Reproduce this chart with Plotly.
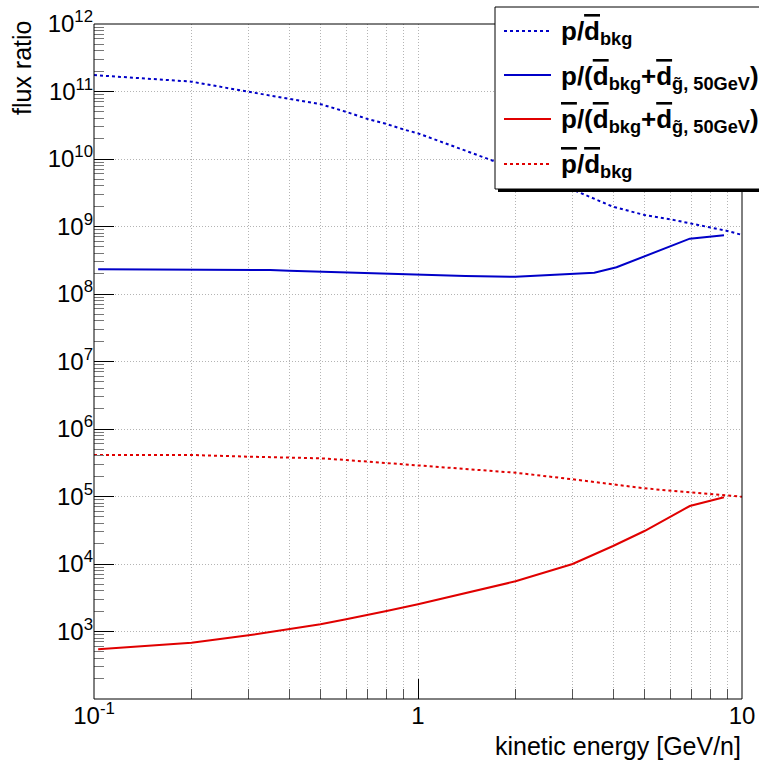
import plotly.graph_objects as go

# ---------------- data ----------------
E_bkg = [0.1, 0.2, 0.3, 0.4, 0.5, 0.6, 0.7, 0.8, 0.9, 1.0, 1.7, 3.1, 4.0, 5.0, 6.0, 7.0, 8.0, 9.0, 10.0]
p_over_dbkg = [1.75e11, 1.40e11, 9.9e10, 7.7e10, 6.5e10, 5.0e10, 3.9e10, 3.3e10, 2.75e10, 2.4e10,
               9.4e9, 3.3e9, 1.96e9, 1.48e9, 1.28e9, 1.11e9, 9.7e8, 8.6e8, 7.5e8]

E_sig = [0.103, 0.2, 0.35, 0.4, 0.5, 0.6, 0.7, 0.8, 1.0, 1.2, 1.4, 2.0, 3.0, 3.5, 4.1, 6.9, 8.8]
p_over_dsum = [2.32e8, 2.32e8, 2.27e8, 2.21e8, 2.14e8, 2.09e8, 2.05e8, 2.03e8, 1.98e8, 1.89e8,
               1.85e8, 1.80e8, 1.98e8, 2.07e8, 2.49e8, 6.6e8, 7.4e8]

E_pbar_sig = [0.103, 0.2, 0.3, 0.4, 0.5, 0.6, 0.7, 0.8, 1.0, 2.0, 3.0, 4.0, 5.0, 6.0, 6.9, 8.8]
pbar_over_dsum = [545, 682, 879, 1079, 1279, 1517, 1755, 2013, 2529, 5543, 10000, 18500,
                  30800, 49200, 72300, 97300]

E_pbar_bkg = [0.1, 0.2, 0.3, 0.4, 0.5, 0.6, 0.7, 0.8, 1.0, 2.0, 3.0, 4.0, 5.0, 7.0, 10.0]
pbar_over_dbkg = [4.12e5, 4.12e5, 3.89e5, 3.81e5, 3.68e5, 3.47e5, 3.28e5, 3.17e5, 2.93e5,
                  2.25e5, 1.80e5, 1.52e5, 1.32e5, 1.15e5, 9.9e4]

y_tick_exps = list(range(3, 13))
x_tick_vals = [0.1, 1, 10]
x_tick_text = ["10<sup>-1</sup>", "1", "10"]

OL = '<span style="text-decoration:overline">{}</span>'
d_bar = OL.format("d")
p_bar = OL.format("p")
legend_labels = [
    f"<b>p/{d_bar}<sub>bkg</sub></b>",
    f"<b>p/({d_bar}<sub>bkg</sub>+{d_bar}<sub>g\u0303, 50GeV</sub>)</b>",
    f"<b>{p_bar}/({d_bar}<sub>bkg</sub>+{d_bar}<sub>g\u0303, 50GeV</sub>)</b>",
    f"<b>{p_bar}/{d_bar}<sub>bkg</sub></b>",
]

BLUE = "#0000c8"
RED = "#e00000"
styles = [(BLUE, "dot"), (BLUE, "solid"), (RED, "solid"), (RED, "dot")]

# ---------------- geometry ----------------
W, H = 759, 764
L, R, T, B = 94, 17, 24, 65
PW, PH = W - L - R, H - T - B


def px(xp):
    return (xp - L) / PW


def py(yp):
    return (H - B - yp) / PH


FONT = "Liberation Sans, Arial, sans-serif"
GRID = "#b4b4b4"
GDASH = "1px,2px"

fig = go.Figure()
series = [(E_bkg, p_over_dbkg), (E_sig, p_over_dsum), (E_pbar_sig, pbar_over_dsum), (E_pbar_bkg, pbar_over_dbkg)]
for (xs, ys), (col, dash), name in zip(series, styles, legend_labels):
    fig.add_trace(go.Scatter(x=xs, y=ys, mode="lines", name=name, showlegend=False,
                             line=dict(color=col, width=2, dash=dash)))

minor_x = [k * 10 ** e for e in (-1, 0) for k in range(2, 10)]
minor_y = [k * 10 ** e for e in range(2, 12) for k in range(2, 10)]

fig.update_xaxes(type="log", range=[-1, 1], tickmode="array", tickvals=x_tick_vals, ticktext=x_tick_text,
                 ticks="inside", ticklen=20, tickcolor="black", tickwidth=1, automargin=False,
                 showline=False, showgrid=True, gridcolor=GRID, griddash=GDASH, gridwidth=1,
                 tickfont=dict(family=FONT, size=24, color="black"),
                 minor=dict(tickmode="array", tickvals=minor_x, ticks="inside", ticklen=10,
                            tickcolor="#555555", showgrid=True, gridcolor=GRID, griddash=GDASH),
                 zeroline=False)
fig.update_yaxes(type="log", range=[2, 12], tickmode="array",
                 tickvals=[10 ** e for e in y_tick_exps],
                 ticktext=[f"10<sup>{e}</sup>" for e in y_tick_exps],
                 ticks="inside", ticklen=20, tickcolor="black", tickwidth=1, automargin=False,
                 showline=False, showgrid=True, gridcolor=GRID, griddash=GDASH, gridwidth=1,
                 tickfont=dict(family=FONT, size=24, color="black"),
                 minor=dict(tickmode="array", tickvals=minor_y, ticks="inside", ticklen=10,
                            tickcolor="#777777", showgrid=False),
                 zeroline=False)

shapes = []
annotations = []
# plot frame (drawn before the legend box so the box covers it)
shapes.append(dict(type="rect", xref="paper", yref="paper", x0=0, x1=1, y0=0, y1=1,
                   line=dict(color="black", width=1), layer="above"))
# legend shadow + box
shapes.append(dict(type="rect", xref="paper", yref="paper", x0=px(498), x1=px(780), y0=py(192), y1=py(10),
                   fillcolor="black", line=dict(width=0), layer="above"))
shapes.append(dict(type="rect", xref="paper", yref="paper", x0=px(495), x1=px(776), y0=py(189), y1=py(7),
                   fillcolor="white", line=dict(color="black", width=1), layer="above"))
entry_y = [31, 75, 119, 164]
for (col, dash), label, yy in zip(styles, legend_labels, entry_y):
    shapes.append(dict(type="line", xref="paper", yref="paper", x0=px(504), x1=px(551), y0=py(yy), y1=py(yy),
                       line=dict(color=col, width=2, dash=dash), layer="above"))
    annotations.append(dict(xref="paper", yref="paper", x=px(559), y=py(yy + 2), text=label, showarrow=False,
                            xanchor="left", yanchor="middle", font=dict(family=FONT, size=26, color="black")))

annotations.append(dict(xref="paper", yref="paper", x=px(22), y=py(19), text="flux ratio", showarrow=False,
                        textangle=-90, xanchor="center", yanchor="top",
                        font=dict(family=FONT, size=25, color="black")))
annotations.append(dict(xref="paper", yref="paper", x=px(743), y=py(746), text="kinetic energy [GeV/n]",
                        showarrow=False, xanchor="right", yanchor="middle",
                        font=dict(family=FONT, size=25, color="black")))

fig.update_layout(width=W, height=H, margin=dict(l=L, r=R, t=T, b=B, pad=0, autoexpand=False),
                  paper_bgcolor="white", plot_bgcolor="white", showlegend=False,
                  shapes=shapes, annotations=annotations)

fig.write_html("out.html", config={"displayModeBar": False},
               post_script="document.body.style.margin='0px';")
